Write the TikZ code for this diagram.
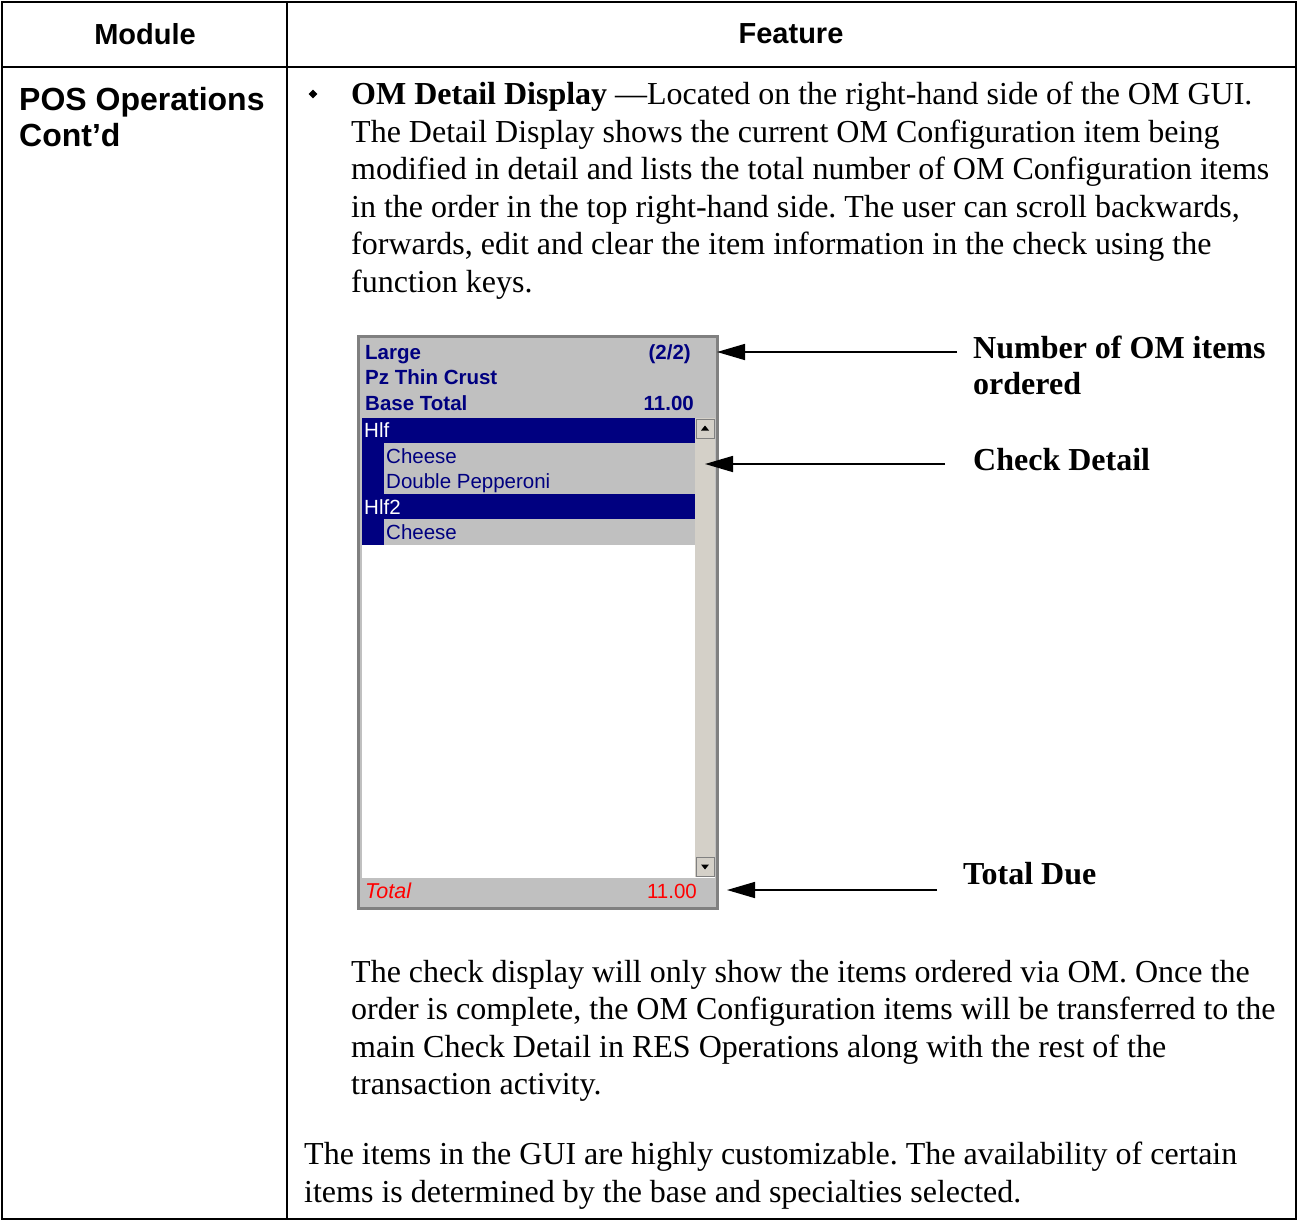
\documentclass[tikz,border=0pt]{standalone}
\usepackage{fontspec}
\setmainfont{Liberation Serif}
\setsansfont{Liberation Sans}
\frenchspacing
\usetikzlibrary{positioning,shapes.geometric,arrows.meta}
\definecolor{scrnavy}{RGB}{0,0,128}
\definecolor{scrgray}{RGB}{192,192,192}
\definecolor{scrbar}{RGB}{212,208,200}
\definecolor{scrred}{RGB}{255,0,0}
\definecolor{scredge}{RGB}{128,128,128}
\tikzset{
  rule/.style={line width=2pt},
  headtxt/.style={font=\sffamily\bfseries\fontsize{29}{32}\selectfont, inner sep=0pt},
  modtxt/.style={font=\sffamily\bfseries\fontsize{32}{36}\selectfont, align=left, inner sep=0pt, anchor=north west},
  body/.style={font=\fontsize{32}{37.5}\selectfont, align=left, inner sep=0pt, anchor=north west},
  callout/.style={font=\bfseries\fontsize{32}{36}\selectfont, align=left, inner sep=0pt, anchor=north west},
  ptr/.style={line width=1.6pt, -{Triangle[length=28pt,width=16pt]}},
  panel/.style={inner sep=0pt, outer sep=0pt, anchor=north west},
  scrtxt/.style={font=\sffamily\fontsize{20.5}{24}\selectfont, inner sep=0pt},
  scrbold/.style={scrtxt, font=\sffamily\bfseries\fontsize{20.5}{24}\selectfont, text=scrnavy},
  btn/.style={panel, fill=scrbar, draw=scredge, line width=1pt, minimum width=18, minimum height=19},
}
\begin{document}
\begin{tikzpicture}[x=1pt,y=-1pt]
  \useasboundingbox (0,0) rectangle (1297,1220);
  % table frame
  \draw[rule] (2,2) rectangle (1296,1219);
  \draw[rule] (287,2) -- (287,1219);
  \draw[rule] (2,67) -- (1296,67);
  \node[headtxt] (modhd) at (145,34) {Module};
  \node[headtxt] (feathd) at (791,34) {Feature};
  \node[modtxt] (modname) at (19,87) {POS Operations\\Cont'd};

  % feature text
  \node[diamond, fill, inner sep=0pt, minimum size=9pt] (bul) at (313,94) {};
  \node[body] (intro) at (351,82) {\textbf{OM Detail Display} —Located on the right-hand side of the OM GUI.\\
    The Detail Display shows the current OM Configuration item being\\
    modified in detail and lists the total number of OM Configuration items\\
    in the order in the top right-hand side. The user can scroll backwards,\\
    forwards, edit and clear the item information in the check using the\\
    function keys.};

  % screen capture
  \node[panel, fill=scrgray, draw=scredge, line width=3pt, minimum width=359, minimum height=572] (scrn) at (358,336) {};
  \node[panel, fill=scrnavy, minimum width=333, minimum height=25] (hlfbar) at (362,418) {};
  \node[panel, fill=scrnavy, minimum width=22, minimum height=51] (hlfside) at (362,443) {};
  \node[panel, fill=scrnavy, minimum width=333, minimum height=25] (hlftwobar) at (362,494) {};
  \node[panel, fill=scrnavy, minimum width=22, minimum height=26] (hlftwoside) at (362,519) {};
  \node[panel, fill=white, minimum width=333, minimum height=332] (blank) at (362,545) {};
  \node[panel, fill=scrbar, minimum width=20, minimum height=459] (scrbar) at (695,418) {};
  \node[btn] (upbtn) at (696,419) {};
  \node[btn] (dnbtn) at (696,857) {};
  \fill (upbtn.center) ++(-4,2) -- ++(8,0) -- ++(-4,-5) -- cycle;
  \fill (dnbtn.center) ++(-4,-2) -- ++(8,0) -- ++(-4,5) -- cycle;
  \draw[white, line width=1pt] (362,877.5) -- (715,877.5);

  \node[scrbold, anchor=base west] (large) at (365,359) {Large};
  \node[scrbold, anchor=base east] (count) at (691,359) {(2/2)};
  \node[scrbold, anchor=base west] (crust) at (365,384) {Pz Thin Crust};
  \node[scrbold, anchor=base west] (basetot) at (365,410) {Base Total};
  \node[scrbold, anchor=base east] (baseamt) at (694,410) {11.00};
  \node[scrtxt, text=white, anchor=base west] (hlf) at (364,437) {Hlf};
  \node[scrtxt, text=scrnavy, anchor=base west] (cheese) at (386,463) {Cheese};
  \node[scrtxt, text=scrnavy, anchor=base west] (pepp) at (386,488) {Double Pepperoni};
  \node[scrtxt, text=white, anchor=base west] (hlftwo) at (364,514) {Hlf2};
  \node[scrtxt, text=scrnavy, anchor=base west] (cheesetwo) at (386,539) {Cheese};
  \node[scrtxt, text=scrred, font=\sffamily\itshape\fontsize{21.5}{24}\selectfont, anchor=base west] (total) at (365,898) {Total};
  \node[scrtxt, text=scrred, anchor=base east] (totamt) at (697,898) {11.00};

  % callouts
  \node[callout] (numlbl) at (973,336) {Number of OM items\\ordered};
  \node[callout] (chklbl) at (973,448) {Check Detail};
  \node[callout] (duelbl) at (963,862) {Total Due};
  \coordinate (numtail) at (957,352);
  \coordinate (chktail) at (945,464);
  \coordinate (duetail) at (937,890);
  \draw[ptr] (numtail) -- (numtail -| scrn.east);
  \draw[ptr] (chktail) -- (chktail -| scrbar.center);
  \draw[ptr] (duetail) -- ([xshift=10pt]duetail -| scrn.east);

  \node[body] (after) at (351,960) {The check display will only show the items ordered via OM. Once the\\
    order is complete, the OM Configuration items will be transferred to the\\
    main Check Detail in RES Operations along with the rest of the\\
    transaction activity.};
  \node[body] (closing) at (304,1142) {The items in the GUI are highly customizable. The availability of certain\\
    items is determined by the base and specialties selected.};
\end{tikzpicture}
\end{document}
